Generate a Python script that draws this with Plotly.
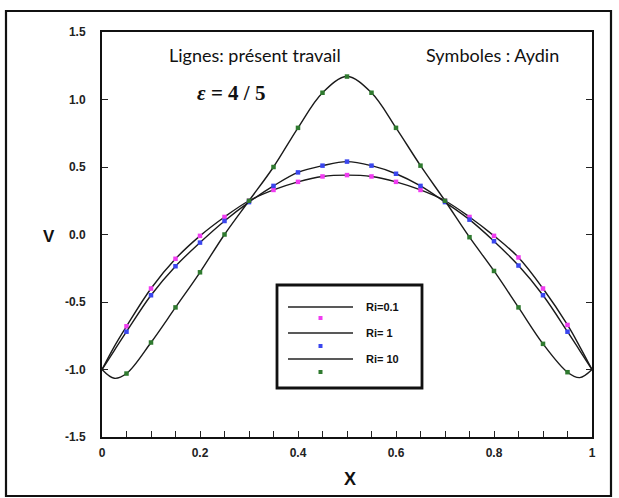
import plotly.graph_objects as go

# Abscissa of the reference (symbol) points and of the computed profiles
X_SYM = [0.05, 0.10, 0.15, 0.20, 0.25, 0.30, 0.35, 0.40, 0.45, 0.50,
         0.55, 0.60, 0.65, 0.70, 0.75, 0.80, 0.85, 0.90, 0.95]
X_LINE = [0.0, 0.025] + X_SYM + [0.975, 1.0]

# Aydin reference values (symbols)
V_SYM_RI01 = [-0.68, -0.40, -0.18, -0.01, 0.13, 0.25, 0.33, 0.39, 0.43, 0.44,
              0.43, 0.39, 0.33, 0.25, 0.13, -0.01, -0.17, -0.40, -0.67]
V_SYM_RI1 = [-0.72, -0.45, -0.235, -0.06, 0.10, 0.24, 0.36, 0.46, 0.51, 0.54,
             0.51, 0.45, 0.36, 0.24, 0.11, -0.05, -0.23, -0.45, -0.72]
V_SYM_RI10 = [-1.03, -0.80, -0.54, -0.28, 0.00, 0.25, 0.50, 0.79, 1.05, 1.17,
              1.05, 0.79, 0.51, 0.25, -0.02, -0.27, -0.54, -0.81, -1.02]

# Present work (lines)
V_LINE_RI01 = [-1.0, -0.83] + V_SYM_RI01 + [-0.83, -1.0]
V_LINE_RI1 = [-1.0, -0.86] + V_SYM_RI1 + [-0.86, -1.0]
V_LINE_RI10 = [-1.0, -1.065] + V_SYM_RI10 + [-1.06, -1.0]

LABELS = ["Ri=0.1", "Ri= 1", "Ri= 10"]
COLORS = ["#f03cf0", "#3a46ee", "#2f7a2f"]

Y_TICKS = [-1.5, -1.0, -0.5, 0.0, 0.5, 1.0, 1.5]
Y_TICKTEXT = ["-1.5", "-1.0", "-0.5", "0.0", "0.5", "1.0", "1.5"]
X_TICKS = [0.0, 0.05, 0.1, 0.15, 0.2, 0.25, 0.3, 0.35, 0.4, 0.45, 0.5,
           0.55, 0.6, 0.65, 0.7, 0.75, 0.8, 0.85, 0.9, 0.95, 1.0]
X_TICKTEXT = ["0", "", "", "", "0.2", "", "", "", "0.4", "", "",
              "", "0.6", "", "", "", "0.8", "", "", "", "1"]

fig = go.Figure()

for v_line, v_sym, name, col in zip(
        [V_LINE_RI01, V_LINE_RI1, V_LINE_RI10],
        [V_SYM_RI01, V_SYM_RI1, V_SYM_RI10], LABELS, COLORS):
    fig.add_trace(go.Scatter(
        x=X_LINE, y=v_line, mode="lines", name=name,
        line=dict(color="#1a1a1a", width=1.4, shape="spline", smoothing=1.0),
        showlegend=False, hoverinfo="skip"))
    fig.add_trace(go.Scatter(
        x=X_SYM, y=v_sym, mode="markers", name=name + " (Aydin)",
        marker=dict(color=col, size=4.5, symbol="square"),
        showlegend=False))

# Plot region in pixels: left 102, right 592, top 32, bottom 437
L, R, T, B = 102, 27, 32, 61
W, H = 619, 498
PW, PH = W - L - R, H - T - B


def px(xp):
    return (xp - L) / PW


def py(yp):
    return (H - B - yp) / PH


shapes = []
# outer frame around the whole figure
shapes.append(dict(type="rect", xref="paper", yref="paper",
                   x0=px(6), x1=px(611), y0=py(496), y1=py(11),
                   line=dict(color="#111", width=2.2)))

# hand-drawn legend box
shapes.append(dict(type="rect", xref="paper", yref="paper",
                   x0=px(277), x1=px(422), y0=py(388), y1=py(285),
                   line=dict(color="#111", width=2.8), fillcolor="white"))
annotations = []
line_rows = [307, 333, 359]
dot_rows = [318, 346, 372]
for lab, col, ly, dy in zip(LABELS, COLORS, line_rows, dot_rows):
    shapes.append(dict(type="line", xref="paper", yref="paper",
                       x0=px(288), x1=px(353), y0=py(ly), y1=py(ly),
                       line=dict(color="#222", width=1.4)))
    shapes.append(dict(type="rect", xref="paper", yref="paper",
                       x0=px(318.5), x1=px(322.5), y0=py(dy + 2), y1=py(dy - 2),
                       line=dict(width=0), fillcolor=col))
    annotations.append(dict(xref="paper", yref="paper", x=px(364), y=py(ly),
                            xanchor="left", yanchor="middle", showarrow=False,
                            text="<b>" + lab + "</b>",
                            font=dict(family="Liberation Sans", size=11, color="#111")))

annotations += [
    dict(xref="paper", yref="paper", x=px(255), y=py(55), showarrow=False,
         xanchor="center", yanchor="middle", text="Lignes: présent travail",
         font=dict(family="Lato", size=18, color="#111")),
    dict(xref="paper", yref="paper", x=px(492), y=py(55), showarrow=False,
         xanchor="center", yanchor="middle", text="Symboles : Aydin",
         font=dict(family="Lato", size=18, color="#111")),
    dict(xref="paper", yref="paper", x=px(231), y=py(93), showarrow=False,
         xanchor="center", yanchor="middle", text="<b><i>ε</i> = 4 / 5</b>",
         font=dict(family="Liberation Serif", size=21, color="#111")),
    dict(xref="paper", yref="paper", x=px(49), y=py(236), showarrow=False,
         xanchor="center", yanchor="middle", text="<b>V</b>",
         font=dict(family="Liberation Sans", size=17, color="#111")),
    dict(xref="paper", yref="paper", x=px(350), y=py(479), showarrow=False,
         xanchor="center", yanchor="middle", text="<b>X</b>",
         font=dict(family="Liberation Sans", size=18, color="#111")),
]

tick_font = dict(family="Liberation Sans", size=12, color="#222", weight="bold")

fig.update_layout(
    width=W, height=H,
    margin=dict(l=L, r=R, t=T, b=B, pad=0),
    paper_bgcolor="white", plot_bgcolor="white",
    showlegend=False,
    shapes=shapes, annotations=annotations,
    xaxis=dict(range=[0, 1], tickvals=X_TICKS, ticktext=X_TICKTEXT,
               ticks="inside", ticklen=6, tickwidth=1.3, tickcolor="#222",
               showline=True, linecolor="#111", linewidth=2, mirror=True,
               showgrid=False, zeroline=False, tickfont=tick_font,
               ticklabelstandoff=4),
    yaxis=dict(range=[-1.5, 1.5], tickvals=Y_TICKS, ticktext=Y_TICKTEXT,
               ticks="inside", ticklen=6, tickwidth=1.3, tickcolor="#222",
               showline=True, linecolor="#111", linewidth=2, mirror="ticks",
               showgrid=False, zeroline=False, tickfont=tick_font,
               ticklabelstandoff=12),
)

fig.write_html("out.html")
